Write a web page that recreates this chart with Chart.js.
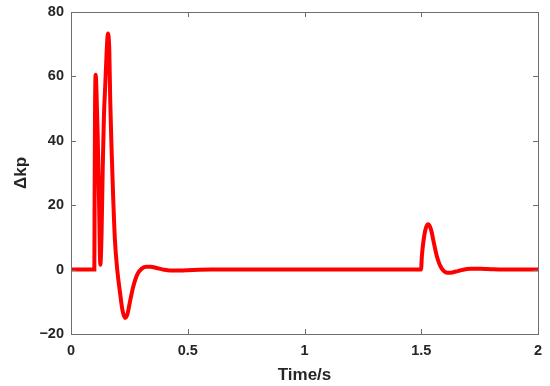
<!DOCTYPE html>
<html>
<head>
<meta charset="utf-8">
<script src="https://cdn.jsdelivr.net/npm/chart.js@4"></script>
<style>
  html, body { margin: 0; padding: 0; background: #fff; }
  #wrap { width: 550px; height: 386px; }
</style>
</head>
<body>
<div id="wrap"><canvas id="kpChart" width="550" height="386"></canvas></div>
<script>
// Time axis (s) and Δkp values
const time = [0, 0.100, 0.101, 0.103, 0.1055, 0.108, 0.114, 0.120, 0.1255, 0.131, 0.136, 0.141, 0.147, 0.153, 0.158,
  0.164, 0.168, 0.174, 0.181, 0.188, 0.198, 0.210, 0.220, 0.231, 0.241, 0.253, 0.267, 0.284, 0.303, 0.324, 0.341,
  0.366, 0.395, 0.424, 0.467, 0.524, 0.6, 1.0, 1.5,
  1.501, 1.503, 1.508, 1.514, 1.521, 1.530, 1.538, 1.545, 1.552, 1.559, 1.566, 1.574, 1.584, 1.595, 1.607, 1.620,
  1.633, 1.648, 1.665, 1.685, 1.71, 1.74, 1.77, 1.80, 1.85, 2.0];
const kp = [0, 0, 20, 50, 60.5, 58, 42.5, 21.7, 1.5, 11.4, 32, 47.5, 57.8, 68, 73.3,
  68, 52.6, 37, 21.7, 9.3, 0, -7.2, -12.4, -15, -14, -9.8, -5.2, -1.5, 0.3, 0.9, 0.9,
  0.5, 0, -0.3, -0.25, -0.1, 0, 0, 0,
  2, 4.5, 8, 11, 13.2, 14.1, 13.2, 11.5, 9, 6.6, 4.4, 2.5, 0.8, -0.3, -0.9, -1.0,
  -0.9, -0.6, -0.3, 0.05, 0.25, 0.3, 0.2, 0.1, 0, 0];

const xTicks = [0, 0.5, 1, 1.5, 2];
const yTicks = [-20, 0, 20, 40, 60, 80];

const axisColor = '#6e6e6e';
const textColor = '#262626';

// box round the plot plus MATLAB-style inward ticks on all four sides
const boxPlugin = {
    id: 'box',
    afterDraw(chart) {
        const c = chart.ctx;
        const a = chart.chartArea;
        const xs = chart.scales.x, ys = chart.scales.y;
        const len = 5;
        c.save();
        c.strokeStyle = axisColor;
        c.lineWidth = 1;
        c.strokeRect(Math.round(a.left) + 0.5, Math.round(a.top) + 0.5,
            Math.round(a.right - a.left), Math.round(a.bottom - a.top));
        c.beginPath();
        xTicks.forEach(v => {
            const px = Math.round(xs.getPixelForValue(v)) + 0.5;
            c.moveTo(px, a.bottom); c.lineTo(px, a.bottom - len);
            c.moveTo(px, a.top); c.lineTo(px, a.top + len);
        });
        yTicks.forEach(v => {
            const py = Math.round(ys.getPixelForValue(v)) + 0.5;
            c.moveTo(a.left, py); c.lineTo(a.left + len, py);
            c.moveTo(a.right, py); c.lineTo(a.right - len, py);
        });
        c.stroke();
        c.restore();
    }
};

const ctx = document.getElementById('kpChart').getContext('2d');
const kpChart = new Chart(ctx, {
    type: 'line',
    data: {
        datasets: [{
            data: time.map((t, i) => ({ x: t, y: kp[i] })),
            borderColor: '#ff0000',
            borderWidth: 4,
            pointRadius: 0,
            cubicInterpolationMode: 'monotone',
            fill: false
        }]
    },
    options: {
        responsive: false,
        animation: false,
        layout: { padding: { top: 12, right: 12, left: 0, bottom: 0 } },
        plugins: { legend: { display: false }, tooltip: { enabled: false } },
        scales: {
            x: {
                type: 'linear',
                min: 0,
                max: 2,
                afterBuildTicks: s => { s.ticks = xTicks.map(v => ({ value: v })); },
                afterFit: s => { s.height = 52; s.paddingLeft = 0; s.paddingRight = 0; },
                grid: { display: false, drawTicks: false },
                border: { display: false },
                ticks: {
                    color: textColor,
                    padding: 8,
                    maxRotation: 0,
                    font: { family: 'Liberation Sans', size: 14.5, weight: 'bold' },
                    callback: v => String(v)
                },
                title: {
                    display: true,
                    text: 'Time/s',
                    color: textColor,
                    padding: { top: 2, bottom: 0 },
                    font: { family: 'Liberation Sans', size: 17, weight: 'bold' }
                }
            },
            y: {
                min: -20,
                max: 80,
                afterBuildTicks: s => { s.ticks = yTicks.map(v => ({ value: v })); },
                afterFit: s => { s.width = 71; s.paddingTop = 0; s.paddingBottom = 0; },
                grid: { display: false, drawTicks: false },
                border: { display: false },
                ticks: {
                    color: textColor,
                    padding: 7,
                    font: { family: 'Liberation Sans', size: 14.5, weight: 'bold' },
                    callback: v => (v < 0 ? '\u2212' + Math.abs(v) : String(v))
                },
                title: {
                    display: true,
                    text: 'Δkp',
                    color: textColor,
                    padding: { top: 11, bottom: 4 },
                    font: { family: 'Liberation Sans', size: 17, weight: 'bold' }
                }
            }
        }
    },
    plugins: [boxPlugin]
});
</script>
</body>
</html>
